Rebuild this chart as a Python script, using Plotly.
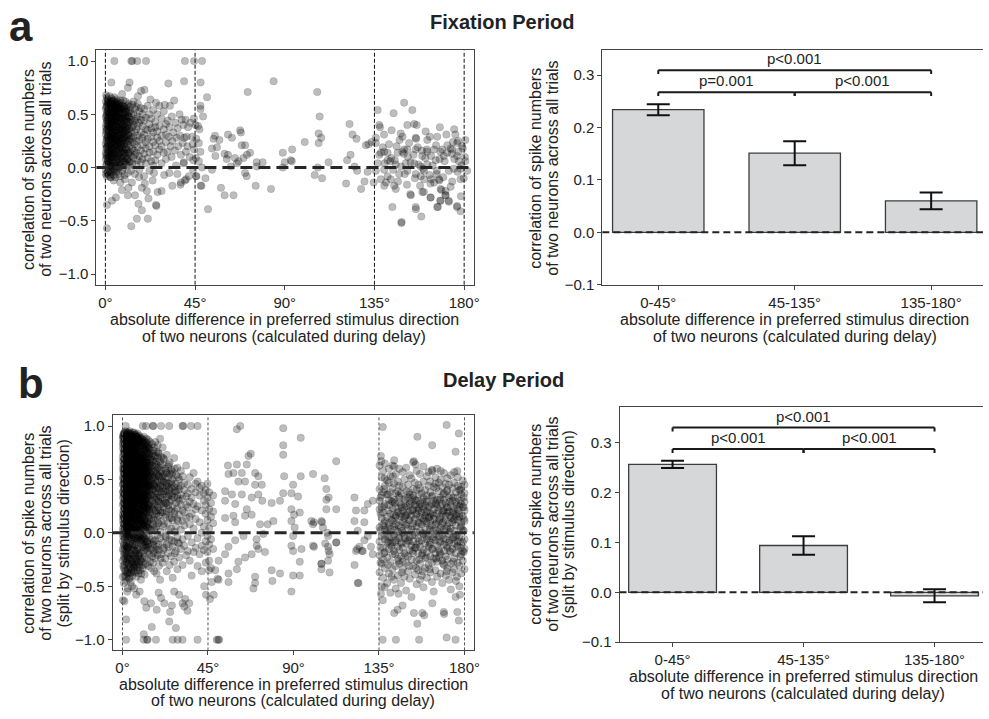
import plotly.graph_objects as go

W, H = 989, 719
FONT = "Liberation Sans, Arial, Helvetica, sans-serif"
INK = "#222222"

# ---------------------------------------------------------------------------
# Pairwise spike-count correlations vs. difference in preferred direction.
# Dense stretches are stored as (deg, [correlation x 100, ...]);
# isolated pairs as (deg, correlation).
# ---------------------------------------------------------------------------
fix_dense = [
    (0.2, [62, 31, 8, 47, -6, 22, 55, 14, 38, -2]),
    (0.45, [57, 34, 12, 49, 25, 3, 41, 18]),
    (0.7, [58, 19, 44, 3, 66, 27, 50, -8, 35, 11]),
    (0.95, [61, 37, 9, 52, 28, -5, 44, 20]),
    (1.2, [64, 40, 15, 53, -4, 29, 6, 60, 21, 45]),
    (1.45, [55, 30, 6, 47, 23, 39, 13, 63]),
    (1.7, [52, 25, 61, 9, 36, -7, 48, 17, 1, 33]),
    (1.95, [59, 35, 15, 51, 26, 2, 42, 8]),
    (2.2, [67, 43, 12, 57, 30, -3, 20, 50, 39, 5]),
    (2.45, [53, 29, 10, 46, 21, 38, -4, 60]),
    (2.7, [55, 28, 62, 16, 46, 2, 37, -9, 24]),
    (2.95, [57, 32, 4, 50, 19, 43, 14]),
    (3.1, [60, 34, 7, 49, 21, 65, 13, 41, -5, 27]),
    (3.4, [62, 36, 11, 45, 27, 1, 54]),
    (3.6, [48, 18, 56, 31, -1, 42, 10, 63, 23]),
    (3.85, [52, 28, 7, 40, 17, 59, 33]),
    (4.1, [63, 38, 4, 51, 26, 14, 59, -7, 33, 45]),
    (4.35, [56, 31, 13, 48, 24, -2, 40]),
    (4.6, [57, 22, 44, 9, 66, 30, -3, 17, 52]),
    (4.85, [60, 35, 5, 44, 20, 53]),
    (5.0, [50, 36, 12, 61, 27, 2, 42, 19, 55, -9]),
    (5.3, [51, 26, 10, 47, 34, 1]),
    (5.5, [64, 29, 46, 6, 39, 15, 58, 24, -4]),
    (5.75, [55, 38, 16, 43, 22, 60]),
    (6.0, [53, 20, 41, 1, 62, 33, 11, 48, 26]),
    (6.25, [58, 30, 8, 49, 25, -1]),
    (6.5, [59, 35, 8, 45, 17, -6, 54, 28, 3]),
    (6.75, [52, 37, 12, 41, 20, 56]),
    (7.0, [47, 24, 60, 13, 38, 0, 31, 52, 18]),
    (7.25, [57, 27, 3, 46, 33]),
    (7.5, [56, 30, 5, 43, 21, 63, 10, -8, 36]),
    (7.75, [50, 35, 15, 42, 23]),
    (8.0, [61, 39, 14, 49, 2, 27, 55, 22]),
    (8.25, [55, 31, 9, 47, 18]),
    (8.5, [45, 19, 58, 32, 7, 40, -3, 25]),
    (8.75, [51, 26, 40, 6, 35]),
    (9.0, [54, 28, 11, 63, 37, 16, 47, 0]),
    (9.3, [57, 33, 14, 44, 22]),
    (9.6, [50, 23, 41, 6, 57, 30, -7, 14]),
    (9.85, [48, 29, 5, 38, 55]),
    (10.1, [62, 34, 9, 46, 19, 52, 26]),
    (10.35, [53, 36, 17, 42]),
    (10.6, [44, 17, 55, 29, 3, 38, 12]),
    (10.9, [46, 24, 8, 35]),
    (11.2, [58, 31, 8, 49, 22, -5, 40]),
    (11.45, [52, 31, 14, 43]),
    (11.7, [48, 25, 60, 13, 36, 2]),
    (12.0, [47, 27, 5, 37]),
    (12.3, [53, 20, 42, 6, 30, 57, 15]),
    (12.9, [45, 27, 11, 51, 34, -3]),
    (13.5, [59, 38, 18, 4, 43, 24]),
    (14.1, [50, 29, 9, 40, 16, 62]),
    (14.8, [44, 22, 55, 33, -6, 12]),
    (15.5, [57, 36, 14, 46, 25, 3]),
    (16.2, [48, 30, 7, 39, 19, 60]),
    (17.0, [53, 26, 11, 42, -2]),
    (17.8, [45, 33, 16, 56, 5]),
    (18.6, [39, 21, 50, 8, 28]),
    (19.4, [55, 31, 13, 44, -8]),
    (20.3, [47, 24, 36, 4, 18]),
    (21.2, [58, 35, 9, 27]),
    (22.1, [41, 20, 50, 14, -3]),
    (23.0, [46, 29, 6, 37]),
    (24.0, [54, 33, 15, 24, 2]),
    (25.0, [43, 21, 38, 7]),
    (26.0, [50, 28, 12, 34]),
    (27.1, [39, 17, 58, 25]),
    (28.2, [46, 30, 4, 20]),
    (29.3, [53, 36, 14]),
    (30.4, [41, 24, 8, 31]),
]

fix_pairs = [
    # 30-50 deg
    (31.3, .44), (31.8, .29), (31.1, .15), (32.4, .58), (32.2, .38), (32.7, .2),
    (32.1, -.05), (33.3, .48), (33.6, .25), (33.2, .1), (34.5, .63), (34.1, .33),
    (34.8, .16), (35.2, .42), (35.7, .28), (35.4, .02), (36.3, .37), (36.6, .2),
    (36.1, -.06), (37.2, .5), (37.5, .3), (37.9, .12), (38.3, .45), (38.8, .23),
    (39.1, .4), (39.6, .28), (39.3, .05), (40.2, .45), (40.7, .29), (40.4, .15),
    (41.5, .38), (41.2, .2), (42.7, .42), (42.3, .1), (43.5, .29), (44.4, .46),
    (43.8, .22), (44.1, .07), (45.2, .4), (45.6, .27), (44.5, .17), (45.4, .09),
    (46.9, .23), (47.7, .15), (46.9, .06), (47.2, .36), (48.5, 0), (44, -.02),
    (45.4, -.08), (39.3, .04), (37.7, -.16), (40.5, -.11), (46.5, .39), (49, .48),
    # top row and upper outliers
    (4.5, 1), (13, 1), (13.5, 1), (16, 1), (20.4, 1), (39.9, 1), (44.5, 1), (48.5, 1),
    (3, .8), (12.1, .8), (11.3, .75), (31.6, .79), (39.5, .81), (47.8, .8),
    (19.6, .73), (17.9, .72), (16.3, .67), (51, .66), (47.7, .58), (47.7, .55),
    (8.4, .69), (22.6, .64), (25.4, .61), (29.8, .59), (0.4, .68),
    # negative outliers
    (0.8, -.57), (13, -.55), (15.8, -.48), (21.3, -.48), (18.3, -.4), (16.6, -.34),
    (25.4, -.35), (25.6, -.36), (0.8, -.35), (3.3, -.31), (5.3, -.28), (8.3, -.21),
    (11.3, -.26), (14.9, -.26), (21.6, -.29), (26.2, -.23), (28.2, -.22),
    (33.6, -.17), (39.9, -.12), (37.9, -.14), (11.6, -.19), (18.3, -.19),
    (20.8, -.22), (13.3, -.14), (7.5, -.14), (2.5, -.09), (47.8, -.17),
    (41.9, -.08), (45.7, -.08), (9.8, -.11), (16.9, -.09), (23.7, -.12),
    (4.2, -.12), (19.8, -.15), (29.5, -.07), (24.4, -.05),
    # 45-135 deg
    (54.3, .27), (55, .3), (57.2, .26), (61.5, .31), (67.6, .35), (68, .33),
    (63.5, .28), (68.4, .21), (70.1, .21), (72.6, .14), (71, .12), (55.2, .11),
    (53.5, .18), (56, .19), (59.8, .13), (60.9, .08), (61.5, .12), (66.8, .06),
    (69.3, .09), (65, .09), (66, .04), (75.9, .05), (78.9, .05), (76, .01),
    (70.1, -.05), (70.9, -.08), (75.4, -.17), (83.1, -.2), (58, -.19),
    (59.8, -.26), (64.3, -.26), (51.5, -.39), (48.2, -.17), (50.2, -.1),
    (53.5, -.02), (63, .01), (71.4, .71), (84.4, .81), (106.3, .71), (107.5, .48),
    (107, .32), (108.3, .28), (107, .23), (100, .24), (93.7, .17), (89, .14),
    (90, .05), (93.5, .06), (93, .07), (89, 0), (105, -.07), (108.7, -.1),
    (106.6, 0), (112, .05), (122.5, .41), (124, .31), (126, .27), (123, .12),
    (121.3, .07), (120.8, -.15), (128.3, -.2), (126.3, -.03), (125, .01),
    (131.6, -.04), (132, .22), (130.7, .21), (134.6, -.14), (130, -.13),
    # 135-180 deg
    (149.9, .61), (154, .54), (136.6, .54), (144.6, .51), (151.5, .4), (154.9, .41),
    (156.2, .4), (137.4, .4), (137.8, .38), (143.6, .35), (148.2, .32), (167.8, .38),
    (175, .36), (175.6, .31), (180.6, .26), (133.6, .24), (135.7, .23), (135.7, .28),
    (139.9, .15), (141.6, .14), (138.2, .14), (142.9, .06), (141.6, .07),
    (146.6, .14), (149.9, .17), (151.5, .17), (155.7, .17), (159, .11),
    (161.5, .15), (164.9, .17), (169, .17), (171.5, .14), (174, .17),
    (176.5, .11), (177.3, .06), (179, .2), (161.5, .26), (162.8, .29),
    (166.5, .29), (155.7, .28), (155.9, .27), (149, .15), (138.2, -.11),
    (140.8, -.14), (144.9, -.17), (141.6, -.08), (147.4, -.06), (151.5, -.03),
    (153, -.25), (153.3, -.26), (155.7, -.06), (158.2, -.08), (159.9, -.11),
    (163.5, -.11), (164.9, -.14), (167.4, -.11), (167.6, -.12), (168.2, -.2),
    (170.7, -.22), (170.7, -.26), (172.3, -.31), (168.2, -.31), (163.2, -.28),
    (159, -.23), (144, -.37), (155.7, -.37), (158.5, -.46), (148.5, -.52),
    (166.8, -.37), (176.5, -.36), (178.2, -.41), (178.2, -.11), (179.8, -.1),
    (174, -.13), (174.8, -.01), (178.2, -.01), (181.5, -.03), (180.6, .06),
    (176.5, .23), (173.2, .18), (169.8, .11), (165.7, .07), (161.5, .03),
    (158.2, .01), (154.9, .04), (150.7, .04), (145.7, .03), (139.9, -.02),
    (136.6, .04), (135.7, -.03), (166.2, -.06), (159.9, -.03), (143.2, -.11),
    (145.7, -.2), (139.9, -.17), (148.6, -.51), (155.8, -.39),
    (166.5, -.37), (176.4, -.37), (163.1, -.28), (168, -.31),
    (172.3, -.32), (170.6, -.26), (159.8, -.23),
    (137.4, .12), (139.2, .19), (140.1, .04), (142.3, .22), (143.5, .09),
    (145.2, .07), (146.1, .2), (147.6, .26), (148.3, .01), (149.7, .13),
    (150.2, -.06), (151.8, .1), (152.4, .23), (153.1, .05), (154.6, .12),
    (155.3, -.1), (156.7, .19), (157.2, .03), (158.8, .16), (159.4, -.01),
    (160.5, .09), (161.3, .17), (162.6, -.07), (163.4, .11), (164.2, .02),
    (165.9, .21), (166.3, -.03), (167.7, .08), (168.1, .15), (169.5, -.09),
    (170.2, .06), (171.6, .21), (172.3, -.03), (173.8, .13), (174.4, .24),
    (175.1, .08), (176.7, -.04), (177.2, .15), (178.6, .02), (179.3, .18),
    (180.4, .1), (144.4, -.02), (146.8, -.13), (151.3, -.16), (157.9, -.17),
    (163.1, -.15), (168.6, -.21), (173.2, -.18), (178.4, -.27), (139.8, .31),
    (149.1, .29), (160.7, .34), (171.1, .31), (176.9, .25),
]

delay_dense = [
    (0.2, [88, 52, 17, -8, 71, 33, 91, -26, 4, 60, 45, -41, 79, 26, -15, 12, 67, 38, -3, 84, -63]),
    (0.45, [90, 74, 57, 39, 21, 2, -17, 63, 46, 28, 9, -31, 82, 50, 15]),
    (0.7, [93, 64, 29, -11, 47, 8, 76, 55, -33, 20, 85, 41, -1, 69, 14, -22, 58, 35, 90, -47]),
    (0.9, [86, 69, 51, 33, 15, -4, -24, 78, 60, 42, 24, 6, -12, 93, 37]),
    (1.1, [81, 44, 9, 66, 27, -19, 89, 53, -6, 73, 36, 16, 94, -30, 61, 3, 48, 77, 23, -40]),
    (1.35, [92, 76, 58, 40, 22, 3, -15, 68, 49, 31, 12, -35, 84, 55, 18]),
    (1.6, [86, 59, 31, -4, 74, 42, 11, 95, -24, 50, 19, 68, -12, 83, 37, 6, 62, -36, 28, 79]),
    (1.8, [88, 71, 53, 35, 17, -1, -20, 80, 62, 44, 26, 7, -41, 59, 30]),
    (2.0, [91, 70, 46, 22, -9, 57, 13, 84, 34, -28, 65, 1, 78, 40, -17, 52, 25, 88, -45, 10]),
    (2.25, [94, 77, 60, 42, 24, 5, -13, 66, 48, 29, 11, -27, 85, 52, 19]),
    (2.5, [77, 49, 15, -21, 63, 30, 87, 5, 55, -37, 72, 43, 18, -2, 92, 38, 60, -14, 81, -55]),
    (2.7, [87, 70, 54, 36, 18, 0, -22, 79, 61, 43, 25, 8, -38, 57, 33]),
    (2.9, [85, 61, 28, -7, 94, 45, 12, 70, 33, -25, 52, 20, 78, -13, 66, 2, 40, 89, -34]),
    (3.15, [91, 75, 59, 41, 23, 4, -14, 67, 50, 32, 13, -30, 83, 47, 16]),
    (3.4, [90, 68, 35, 7, 56, -18, 82, 24, 47, -3, 74, 14, 63, -29, 93, 41, 30, -42, 58]),
    (3.6, [86, 68, 52, 34, 16, -3, -25, 76, 58, 40, 21, 6, -43, 62, 29]),
    (3.8, [79, 53, 21, -10, 87, 39, 65, 2, 44, -23, 71, 16, 95, 58, 27, -5, 83, -38, 49]),
    (4.05, [93, 78, 61, 44, 26, 7, -11, 70, 53, 35, 14, -33, 87, 49, 20]),
    (4.3, [92, 62, 37, 9, 75, -15, 51, 26, 84, -1, 43, 18, 69, -31, 56, 88, 33, -46, 11]),
    (4.5, [89, 72, 55, 37, 19, 1, -19, 81, 64, 46, 27, 10, -37, 58, 31]),
    (4.7, [86, 57, 23, -6, 72, 45, 13, 90, 31, -20, 64, 4, 80, 48, -35, 39, 19, 67]),
    (4.95, [85, 69, 51, 33, 15, -4, -26, 74, 56, 39, 22, 5, 90, 45]),
    (5.2, [94, 66, 41, 15, -12, 59, 28, 83, 50, -2, 76, 35, 8, -27, 69, 22, 88, -40, 54]),
    (5.4, [91, 74, 57, 40, 22, 3, -16, 66, 48, 30, 12, -29, 80, 53]),
    (5.6, [81, 47, 20, -8, 68, 36, 90, 11, 60, -24, 42, 77, 27, 3, 85, -33, 51, 64]),
    (5.85, [87, 70, 53, 35, 17, -1, -21, 78, 61, 43, 26, 8, -36, 59]),
    (6.1, [89, 63, 34, 6, 73, -16, 48, 25, 82, -4, 57, 14, 94, 39, -30, 70, 46, -52]),
    (6.3, [92, 76, 59, 41, 24, 6, -12, 68, 51, 33, 15, -32, 84, 45]),
    (6.5, [78, 55, 29, -11, 87, 42, 17, 66, 2, 52, -22, 74, 33, 91, 9, -37, 61]),
    (6.75, [86, 68, 50, 32, 14, -5, -24, 75, 57, 38, 20, 2, 60]),
    (7.0, [92, 70, 44, 12, -5, 81, 31, 58, 22, -19, 65, 38, 86, 5, 49, -29, 76]),
    (7.2, [89, 73, 56, 39, 21, 2, -17, 64, 47, 29, 11, -30, 81]),
    (7.4, [84, 60, 26, -9, 73, 47, 16, 90, 37, -25, 55, 3, 68, 30, -41, 79]),
    (7.65, [84, 67, 49, 31, 13, -6, -27, 72, 55, 37, 19, 4, 90]),
    (7.9, [88, 53, 35, 8, 71, -14, 44, 19, 80, 62, -3, 28, 93, 50, -32, 40]),
    (8.1, [90, 74, 58, 40, 22, 3, -15, 66, 48, 30, 12, -35]),
    (8.4, [82, 64, 40, 14, -7, 75, 29, 56, 2, 87, 46, -21, 68, 23, -38]),
    (8.6, [85, 69, 52, 34, 16, -3, -22, 77, 60, 42, 25, 7]),
    (8.8, [91, 58, 33, 10, 69, -16, 48, 24, 79, -4, 62, 39, 85, 17, -28, 52]),
    (9.05, [88, 71, 54, 36, 18, 0, -19, 63, 45, 27, 9, -31]),
    (9.3, [77, 54, 28, -2, 86, 43, 13, 66, 35, -24, 72, 20, 59, 6, -35]),
    (9.5, [82, 66, 49, 31, 13, -7, -26, 74, 57, 39, 21, 3]),
    (9.7, [89, 63, 37, 11, -10, 74, 46, 21, 81, 55, -19, 30, 68, 3, -44]),
    (9.95, [87, 70, 53, 35, 17, -2, 62, 44, 26, 8, -38]),
    (10.2, [84, 50, 26, -6, 70, 41, 15, 88, 58, 33, -27, 62, 8, 76]),
    (10.45, [81, 64, 47, 29, 11, -9, 72, 55, 37, 19, -24]),
    (10.7, [79, 61, 36, 9, -13, 72, 45, 22, 85, 53, -2, 29, -33, 67]),
    (10.95, [85, 68, 51, 33, 15, -4, 60, 42, 24, 6, -30]),
    (11.2, [87, 57, 31, 4, 66, 40, -17, 75, 18, 49, 90, -8, 62, 25]),
    (11.4, [79, 62, 45, 27, 9, -12, 70, 53, 35, 17]),
    (11.6, [73, 52, 27, -5, 82, 44, 12, 63, 35, -22, 58, 20, -39]),
    (11.85, [83, 66, 48, 30, 12, -6, 57, 39, 21, 3]),
    (12.1, [85, 60, 38, 14, -11, 70, 47, 24, 78, 2, 54, -29, 31]),
    (12.35, [77, 60, 43, 25, 7, -14, 68, 50, 32]),
    (12.6, [80, 55, 30, 6, 66, 42, -15, 73, 19, 50, -3, 88, 36]),
    (12.8, [81, 64, 46, 28, 10, -8, 55, 37, 19]),
    (13.0, [76, 48, 23, -8, 62, 39, 84, 11, 57, -24, 33, 69]),
    (13.25, [75, 58, 41, 23, 5, -17, 66, 48]),
    (13.5, [82, 59, 34, 5, 71, 45, -13, 26, 53, 16, -31, 87]),
    (13.75, [79, 62, 44, 26, 8, -11, 53, 35]),
    (14.0, [74, 51, 28, -4, 65, 40, 14, 80, -20, 47, 22]),
    (14.25, [73, 56, 39, 21, 3, 63, 45]),
    (14.5, [78, 56, 32, 9, 69, -10, 43, 19, 61, -27, 85]),
    (15.0, [71, 49, 25, 2, 58, 36, -15, 66, 13, -33, 44]),
    (15.6, [83, 54, 30, -6, 63, 41, 17, 74, -22, 52]),
    (16.1, [68, 46, 22, -11, 59, 35, 8, 77, -28, 40]),
    (16.4, [72, 51, 33, 12, -8, 45, 24, -19]),
    (16.7, [80, 57, 27, 3, 66, 44, -17, 15, 52, -36]),
    (17.3, [72, 50, 31, -7, 62, 20, 85, -24, 39]),
    (17.6, [67, 47, 26, 5, -15, 58, 37]),
    (17.9, [64, 43, 18, -13, 55, 33, 76, 6, -38]),
    (18.5, [70, 48, 24, -2, 60, 37, -21, 12, 82]),
    (18.8, [75, 54, 30, 9, -11, 42, 21]),
    (19.1, [61, 41, 16, -16, 53, 29, 74, -31]),
    (19.8, [67, 45, 21, -5, 56, 34, 88, -44]),
    (20.1, [63, 44, 19, 1, -24, 52, 33]),
    (20.4, [58, 38, 11, -20, 49, 27, 71]),
    (21.1, [64, 42, 19, -9, 53, 31, -28, 80]),
    (21.5, [70, 48, 27, 6, -16, 39]),
    (21.8, [55, 36, 8, -14, 47, 24, 69]),
    (22.5, [60, 39, 15, -24, 51, 28, -3]),
    (22.9, [58, 40, 17, -4, 47, 28]),
    (23.3, [73, 44, 20, -11, 56, 33, -36]),
    (24.0, [52, 34, 9, -19, 46, 26, 62]),
    (24.4, [64, 43, 22, 2, -13, 36]),
    (24.8, [66, 40, 14, -6, 55, 29, -30]),
    (25.6, [48, 31, 4, -22, 42, 21, 59]),
    (25.9, [55, 35, 14, -7, 46]),
    (26.4, [57, 37, 12, -13, 50, 25, -42]),
    (27.2, [70, 43, 18, -8, 33, -27]),
    (27.5, [60, 39, 20, 1, -19]),
    (28.1, [46, 28, 6, -17, 54, 39]),
    (28.9, [61, 35, 13, -4, 23, -34]),
    (29.2, [52, 32, 11, -9, 43]),
    (29.8, [50, 30, -10, 41, 17, -23]),
    (30.7, [44, 26, 3, -15, 58, 36]),
    (31.6, [53, 32, 11, -6, 21, -30]),
    (32.5, [40, 19, -12, 47, 7]),
    (33.5, [63, 34, 14, -21, 26]),
    (34.4, [45, 24, -3, 37, -17]),
    (35.4, [52, 29, 8, -26, 15]),
    (36.4, [41, 18, -9, 33, -40]),
    (37.4, [56, 27, 4, -18]),
    (38.5, [38, 13, -14, 46, 22]),
    (39.5, [48, 25, -5, -31]),
    (40.6, [35, 10, -20, 42]),
    (41.7, [44, 21, 0, -12, -36]),
    (42.8, [30, 6, -16, 37]),
    (43.8, [40, 18, -8, 26, -28]),
    (44.7, [33, 12, -3, -18, 46]),
    (45.6, [22, 4, -11, 38, -26]),
    (46.6, [28, -6, 15, -33]),
    (47.7, [35, 9, -15, 20]),
    (135.3, [41, -8, 22, -37, 63, 5, -21, 30]),
    (135.8, [18, -14, 3, 33, -28]),
    (136.4, [14, -29, 52, -3, 35, -50, 24]),
    (137.2, [58, 19, -14, 7, -42, 38, -25]),
    (137.7, [-2, 25, -19, 9, 41]),
    (138.1, [27, -6, 44, -33, 11, 65, -18, 3]),
    (139.3, [36, 2, -23, 49, 15, -47, -9]),
    (139.8, [21, -8, 5, -30, 36]),
    (140.2, [9, 47, -15, 26, -38, 60, 31, -4]),
    (141.0, [53, 18, -27, 4, 38, -11, -56]),
    (141.6, [-13, 12, 30, -4, -41]),
    (142.1, [23, -9, 42, 11, -34, 63, -20, 29]),
    (142.9, [46, 6, -17, 31, -44, 17, -2]),
    (143.4, [28, 3, -20, 14, -9]),
    (143.8, [16, 55, -31, 37, -7, 24, -52, 8]),
    (144.9, [39, -13, 20, 1, -40, 48, -24]),
    (145.3, [7, -26, 19, 35, -3]),
    (145.7, [60, 28, -5, 12, -29, 44, -16, 33]),
    (146.6, [18, -22, 37, 5, -47, 26, -9]),
    (147.0, [24, -10, 2, -37, 15]),
    (147.5, [43, 10, -34, 57, -14, 21, 0, -27]),
    (148.4, [31, -3, 50, 14, -19, -41, 24]),
    (148.9, [-5, 16, 32, -21, 7]),
    (149.3, [8, 39, -28, 25, -10, 61, -54, 17]),
    (150.3, [45, 19, -7, 33, -36, 4, -22]),
    (150.8, [12, -31, 26, -8, 38]),
    (151.2, [27, -16, 54, 12, -43, 36, -4, 20]),
    (152.1, [51, 3, -25, 29, 16, -12, -60]),
    (152.6, [-17, 6, 21, -2, 33]),
    (153.0, [35, -8, 22, 66, -31, 9, -19, 41]),
    (153.9, [13, 47, -39, 26, -2, 31, -14]),
    (154.4, [30, 1, -14, 17, -33]),
    (154.8, [58, 24, -11, 6, -26, 40, -48, 18]),
    (155.7, [30, -19, 45, 10, -35, 21, -5]),
    (156.1, [-8, 23, 9, -25, 36]),
    (156.6, [42, 2, -29, 55, 15, -13, 27, -44]),
    (157.5, [19, 37, -7, -40, 25, 8, -21]),
    (157.9, [14, -19, 29, 0, -36]),
    (158.4, [48, 12, -16, 33, -51, 22, -1, 62]),
    (159.3, [26, -24, 40, 5, -33, 16, -10]),
    (159.8, [-3, 31, 11, -23, 19]),
    (160.2, [53, 20, -6, 35, -42, 9, -18, 29]),
    (161.1, [14, 44, -30, 24, -13, 57, -3]),
    (161.6, [25, -11, 4, -34, 15]),
    (162.0, [38, -9, 18, 3, -37, 48, -22, 11]),
    (162.9, [59, 27, -15, 34, -46, 7, -28]),
    (163.3, [-15, 18, 35, 2, -6]),
    (163.8, [22, -4, 43, 13, -24, 30, -55, 16]),
    (164.7, [46, 8, -19, 28, -35, 52, -7]),
    (165.1, [9, -24, 27, -1, 42]),
    (165.6, [31, -12, 18, 60, -27, 2, -41, 24]),
    (166.5, [11, 39, -23, 21, -3, 47, -16]),
    (166.9, [-18, 13, 31, -9, 3]),
    (167.4, [50, 15, -8, 33, -38, 25, -20, 5]),
    (168.3, [27, -26, 43, 9, -47, 18, -2]),
    (168.8, [20, -5, 36, -29, 10]),
    (169.2, [56, 21, -11, 37, -30, 3, -17, 31]),
    (170.1, [16, 46, -22, 28, -6, 12, -40]),
    (170.6, [-12, 24, 4, 39, -36]),
    (171.0, [40, -14, 24, 6, -33, 51, -25, 19]),
    (171.9, [33, 9, -9, 45, -44, 20, -1]),
    (172.3, [29, 1, -17, 16, -7]),
    (172.8, [54, 26, -18, 14, -29, 35, -53, 4]),
    (173.7, [19, -6, 42, 30, -37, 10, -15]),
    (174.1, [-4, 33, 12, -27, 20]),
    (174.6, [47, 13, -24, 23, -10, 57, -34, 2]),
    (175.5, [29, -19, 38, 7, -45, 16, -3]),
    (176.0, [18, -13, 26, -2, -41]),
    (176.4, [52, 22, -12, 33, -28, 44, -8, 12]),
    (177.3, [15, 40, -31, 25, -4, 18, -50]),
    (177.8, [-8, 30, 5, -22, 40]),
    (178.2, [43, 6, -20, 36, -14, 27, -38, 10]),
    (179.1, [24, -9, 49, 16, -26, 3, -17]),
    (179.6, [13, -18, 24, 2, 33]),
    (180.0, [37, 11, -15, 29, -34, 21, -6, 45]),
]

delay_pairs = [
    # rows at |r| = 1
    (1.7, 1), (10.7, 1), (12.4, 1), (15.9, 1), (16.3, 1), (20.3, 1), (24.6, 1),
    (31.6, 1), (32, 1), (36, 1), (39.5, 1), (60.2, .97), (62, 1.0),
    (1.9, -1), (11.2, -1), (12.9, -1), (13.2, -1), (17.6, -1), (26.4, -1), (29, -1),
    (31.6, -1), (39.5, -1), (49.6, -1), (50.4, -1), (50.9, -1),
    # strong negative correlations, 0-50 deg
    (1.9, -.81), (15.4, -.88), (11.2, -.95), (25.1, -.74), (24.6, -.83), (28.1, -.89),
    (34.2, -.73), (35.1, -.66), (31.6, -.66), (15, -.66), (11.5, -.64), (7.2, -.58),
    (2.8, -.52), (27.2, -.55), (29.8, -.58), (20.3, -.61), (1, -.64), (33, -.62),
    (32.5, -.69), (19, -.56), (22, -.66), (12.5, -.7), (5, -.5), (9, -.55),
    (18, -.72), (26, -.68), (44, -.58), (46, -.62), (47, -.46), (43, -.5),
    (48, -.58), (45.5, -.35), (50, -.43),
    # 45-135 deg
    (55.5, .63), (55.8, .55), (60.2, .64), (65.4, .64), (67.5, .74), (66.3, .72),
    (58.4, .56), (62.8, .56), (69.8, .56), (71.5, .53), (61, .48), (64.5, .48),
    (69.8, .45), (73.3, .45), (54, .39), (57.6, .36), (62.8, .36), (68, .33),
    (71.5, .36), (73.6, .3), (54, .3), (59.3, .27), (65.4, .22), (68, .17),
    (64.5, .16), (58.4, .16), (54, .14), (59.3, .1), (72.4, .08), (76.4, .08),
    (74.1, -.01), (70.6, -.06), (70.6, -.12), (71.5, -.15), (75, -.18), (68, -.2),
    (64.5, -.23), (61, -.27), (60.2, -.34), (55.8, -.38), (50.6, -.44), (55.8, -.46),
    (48.8, -.35), (50.6, -.26), (54, -.2), (55.8, -.13), (59.3, -.07), (63.7, -.03),
    (69.8, -.47), (68.9, -.52), (69.8, -.41), (78.5, -.35), (82.9, -.38), (78.9, -.45),
    (79.4, .11), (78.5, .28), (82.9, .3), (84.6, .37), (85.1, .53), (84.6, .82),
    (84.6, .73), (84.6, .98), (93.8, .89), (89.8, .45), (88.9, .37), (93.8, .53),
    (92.4, .34), (88.9, .22), (90.3, .17), (93.3, .19), (88.9, .11), (90.6, .05),
    (89.8, -.03), (88.9, -.12), (89.8, -.17), (94.2, -.15), (93.3, -.27), (89.8, -.4),
    (93.3, -.4), (88.9, -.55), (100.3, .55), (99.4, .11), (100.3, .08), (100.3, -.12),
    (104.7, .11), (105.5, .05), (106.4, .51), (107.3, .41), (107.3, .31), (108.5, .33),
    (107.3, .22), (108.2, -.03), (108.2, -.13), (109, -.2), (108.2, -.26),
    (104.7, -.29), (104.7, -.34), (109, -.37), (112.5, .67), (112.5, .22),
    (112.5, -.09), (122.1, .33), (122.9, .21), (122.1, .11), (123.8, .02),
    (124.7, -.13), (122.9, -.17), (122.1, -.3), (123.8, -.47), (127.3, .21),
    (127.3, .1), (129.1, -.03), (130.8, -.13), (131.7, -.2), (129.1, .27),
    (131.7, .3), (126.5, -.17), (127.3, -.07), (100.8, .1), (105, .1),
    (107.8, 0), (100.8, -.13), (106.7, -.1), (108.5, -.17), (112.5, -.09),
    (104.7, -.29), (124.2, -.47), (123.5, -.15), (126, -.17),
    # 135-180 deg outliers
    (137, .99), (155.2, .9), (163, .82), (170.6, 1.01), (177, .93), (175.3, .76),
    (136, .72), (136.2, .67), (143, .68), (153.4, .67), (154.3, .64), (163, .58),
    (167.5, .58), (176.2, .58), (143, .62), (138, .51), (142.3, .53),
    (143, -.75), (147.4, -.68), (144.8, -.72), (153.4, -.75), (155.2, -.85),
    (157.8, -.75), (169.1, -.74), (169.3, -.76), (176.2, -.74), (177, -.82),
    (175.3, -.6), (177.6, -.58), (170.6, -.98), (137, -.63), (138, -.51),
    (136, -.57), (136.9, -1), (143.9, -1), (156.1, -1), (175.3, -1), (163.1, -.66),
    (158.8, -.77), (145.3, -.57),
]

bin_labels = ["0-45°", "45-135°", "135-180°"]
fix_mean = [0.234, 0.151, 0.060]
fix_sem = [0.0105, 0.023, 0.016]
delay_mean = [0.257, 0.094, -0.007]
delay_sem = [0.0075, 0.0185, 0.013]
sig_pairs = [(0, 2), (0, 1), (1, 2)]
fix_p = ["p<0.001", "p=0.001", "p<0.001"]
delay_p = ["p<0.001", "p<0.001", "p<0.001"]

scatter_ticks = [0, 45, 90, 135, 180]
scatter_ticktext = ["0°", "45°", "90°", "135°", "180°"]
r_ticks = [-1.0, -0.5, 0.0, 0.5, 1.0]
bar_ticks = [-0.1, 0.0, 0.1, 0.2, 0.3]


def expand(dense, pairs):
    xs, ys = [], []
    for deg, vals in dense:
        for v in vals:
            xs.append(deg)
            ys.append(v / 100.0)
    for deg, r in pairs:
        xs.append(deg)
        ys.append(r)
    return xs, ys


def fmt(v, nd=1):
    s = f"{v:.{nd}f}"
    return s.replace("-", "\u2212")


def pxx(px):
    return px / W


def pxy(py):
    return 1 - py / H


fig = go.Figure()

marker = dict(size=7.5, color="rgba(0,0,0,0.26)",
              line=dict(width=0.8, color="rgba(0,0,0,0.14)"))

fx, fy = expand(fix_dense, fix_pairs)
dx, dy = expand(delay_dense, delay_pairs)
fig.add_trace(go.Scatter(x=fx, y=fy, mode="markers", marker=marker,
                         xaxis="x", yaxis="y", hoverinfo="skip"))
fig.add_trace(go.Scatter(x=dx, y=dy, mode="markers", marker=marker,
                         xaxis="x3", yaxis="y3", hoverinfo="skip"))

bar_style = dict(marker=dict(color="#d6d7d9", line=dict(color="#3c3c3c", width=1.3)),
                 width=0.67, hoverinfo="skip")
fig.add_trace(go.Bar(x=[0, 1, 2], y=fix_mean,
                     error_y=dict(type="data", array=fix_sem, color="#111",
                                  thickness=2, width=11.5),
                     xaxis="x2", yaxis="y2", **bar_style))
fig.add_trace(go.Bar(x=[0, 1, 2], y=delay_mean,
                     error_y=dict(type="data", array=delay_sem, color="#111",
                                  thickness=2, width=11.5),
                     xaxis="x4", yaxis="y4", **bar_style))

axis_common = dict(showgrid=False, zeroline=False, showline=True, linecolor="#444",
                   linewidth=1, ticks="outside", ticklen=4, tickcolor="#444",
                   tickwidth=1, tickfont=dict(family=FONT, size=15, color=INK))

# panel boxes (pixels): left, right, top, bottom
box_fs = (97, 477, 51, 288)
box_fb = (606, 989, 51, 288)
box_ds = (113.3, 476.7, 420, 657.7)
box_db = (623.3, 989, 411.7, 649.3)


def dom_x(b):
    return [pxx(b[0]), min(1.0, pxx(b[1]))]


def dom_y(b):
    return [pxy(b[3]), pxy(b[2])]


fig.update_layout(
    xaxis=dict(domain=dom_x(box_fs), anchor="y", range=[-4.5, 185], mirror=True,
               tickvals=scatter_ticks, ticktext=scatter_ticktext, **axis_common),
    yaxis=dict(domain=dom_y(box_fs), anchor="x", range=[-1.1, 1.1], mirror=True,
               tickvals=r_ticks, ticktext=[fmt(v) for v in r_ticks], **axis_common),
    xaxis2=dict(domain=dom_x(box_fb), anchor="y2", range=[-0.41, 2.38], mirror=True,
                tickvals=[0, 1, 2], ticktext=bin_labels, **axis_common),
    yaxis2=dict(domain=dom_y(box_fb), anchor="x2", range=[-0.1, 0.347],
                tickvals=bar_ticks, ticktext=[fmt(v) for v in bar_ticks], **axis_common),
    xaxis3=dict(domain=dom_x(box_ds), anchor="y3", range=[-5.2, 184.9], mirror=True,
                tickvals=scatter_ticks, ticktext=scatter_ticktext, **axis_common),
    yaxis3=dict(domain=dom_y(box_ds), anchor="x3", range=[-1.1, 1.1], mirror=True,
                tickvals=r_ticks, ticktext=[fmt(v) for v in r_ticks], **axis_common),
    xaxis4=dict(domain=dom_x(box_db), anchor="y4", range=[-0.405, 2.37], mirror=True,
                tickvals=[0, 1, 2], ticktext=bin_labels, **axis_common),
    yaxis4=dict(domain=dom_y(box_db), anchor="x4", range=[-0.1, 0.372],
                tickvals=bar_ticks, ticktext=[fmt(v) for v in bar_ticks], **axis_common),
)

shapes = []
# bin borders on the scatter panels
for xa, ya, col, dash in (("x", "y", "#111", "4px,2px"), ("x3", "y3", "#555", "3px,2px")):
    for b in (0, 45, 135, 180):
        shapes.append(dict(type="line", xref=xa, yref=f"{ya} domain", x0=b, x1=b,
                           y0=0, y1=1, line=dict(color=col, width=1, dash=dash)))
    shapes.append(dict(type="line", xref=f"{xa} domain", yref=ya, x0=0, x1=1, y0=0, y1=0,
                       line=dict(color="#262626", width=3, dash="12px,6px")))
# zero line on the bar panels
for xa, ya in (("x2", "y2"), ("x4", "y4")):
    shapes.append(dict(type="line", xref=f"{xa} domain", yref=ya, x0=0, x1=1, y0=0, y1=0,
                       line=dict(color="#222", width=2, dash="7px,4px")))

annotations = []


def brackets(xa, ya, labels, top, low, drop):
    for (i, j), lab in zip(sig_pairs, labels):
        level = top if (j - i) == 2 else low
        pts = [(i, level - drop), (i, level), (j, level), (j, level - drop)]
        for (x0, y0), (x1, y1) in zip(pts[:-1], pts[1:]):
            shapes.append(dict(type="line", xref=xa, yref=ya, x0=x0, x1=x1, y0=y0, y1=y1,
                               line=dict(color="#1a1a1a", width=2)))
        annotations.append(dict(text=lab, x=(i + j) / 2, y=level, xref=xa, yref=ya,
                                showarrow=False, yanchor="bottom", yshift=1,
                                font=dict(family=FONT, size=15, color=INK)))


brackets("x2", "y2", fix_p, 0.309, 0.267, 0.007)
brackets("x4", "y4", delay_p, 0.331, 0.288, 0.008)


def note(text, px, py, size=16, angle=0):
    annotations.append(dict(text=text, x=pxx(px), y=pxy(py), xref="paper", yref="paper",
                            showarrow=False, textangle=angle, xanchor="center",
                            yanchor="middle", font=dict(family=FONT, size=size, color=INK)))


xt1 = "absolute difference in preferred stimulus direction"
xt2 = "of two neurons (calculated during delay)"
yt1 = "correlation of spike numbers"
yt2 = "of two neurons across all trials"
yt3 = "(split by stimulus direction)"

note("<b>a</b>", 21, 27, size=42)
note("<b>b</b>", 31, 388, size=42)
note("<b>Fixation Period</b>", 505, 22, size=20)
note("<b>Delay Period</b>", 507, 384, size=20)

note(xt1, 286, 323)
note(xt2, 286, 340)
note(xt1, 799.5, 323)
note(xt2, 799.5, 340)
note(xt1, 295, 692)
note(xt2, 295, 708)
note(xt1, 808, 684)
note(xt2, 808, 701.5)

note(yt1, 28, 171, angle=-90)
note(yt2, 45, 171, angle=-90)
note(yt1, 538, 170, angle=-90)
note(yt2, 555, 170, angle=-90)
note(yt1, 28, 539, angle=-90)
note(yt2, 45, 539, angle=-90)
note(yt3, 63, 539, angle=-90)
note(yt1, 538, 530, angle=-90)
note(yt2, 555, 530, angle=-90)
note(yt3, 572, 530, angle=-90)

fig.update_layout(
    width=W, height=H, margin=dict(l=0, r=0, t=0, b=0),
    paper_bgcolor="white", plot_bgcolor="white", showlegend=False,
    font=dict(family=FONT, size=15, color=INK),
    shapes=shapes, annotations=annotations, bargap=0.33,
)

fig.write_html("out.html")
